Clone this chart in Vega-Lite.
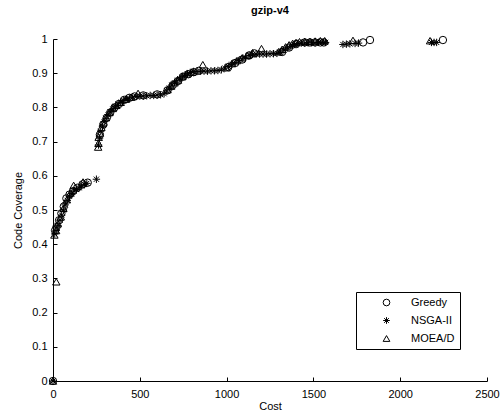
{
  "$schema": "https://vega.github.io/schema/vega-lite/v6.json",
  "autosize": "none",
  "width": 434,
  "height": 342,
  "padding": {"left": 53, "top": 39, "right": 16, "bottom": 31},
  "background": "white",
  "config": {
    "view": {"stroke": null},
    "font": "Liberation Sans",
    "axis": {"grid": false, "domainColor": "black", "tickColor": "black", "labelColor": "black", "titleColor": "black", "labelFontSize": 11, "titleFontSize": 11, "titleFontWeight": "normal", "tickSize": -4, "domainWidth": 1, "tickWidth": 1}
  },
  "title": {"text": "gzip-v4", "fontSize": 11, "fontWeight": "bold", "font": "Liberation Sans", "color": "black", "offset": 17, "anchor": "middle"},
  "data": {"values": [
    {"s":"Greedy","x":0,"y":0},{"s":"Greedy","x":12,"y":0.44},{"s":"Greedy","x":20,"y":0.45},{"s":"Greedy","x":35,"y":0.47},{"s":"Greedy","x":48,"y":0.49},{"s":"Greedy","x":62,"y":0.51},{"s":"Greedy","x":77,"y":0.534},{"s":"Greedy","x":95,"y":0.545},{"s":"Greedy","x":115,"y":0.555},{"s":"Greedy","x":140,"y":0.565},{"s":"Greedy","x":170,"y":0.575},{"s":"Greedy","x":200,"y":0.58},{"s":"Greedy","x":270,"y":0.72},{"s":"Greedy","x":290,"y":0.75},{"s":"Greedy","x":310,"y":0.77},{"s":"Greedy","x":330,"y":0.785},{"s":"Greedy","x":355,"y":0.8},{"s":"Greedy","x":380,"y":0.81},{"s":"Greedy","x":410,"y":0.822},{"s":"Greedy","x":440,"y":0.828},{"s":"Greedy","x":470,"y":0.832},{"s":"Greedy","x":520,"y":0.835},{"s":"Greedy","x":600,"y":0.838},{"s":"Greedy","x":660,"y":0.85},{"s":"Greedy","x":690,"y":0.865},{"s":"Greedy","x":720,"y":0.877},{"s":"Greedy","x":750,"y":0.89},{"s":"Greedy","x":780,"y":0.897},{"s":"Greedy","x":810,"y":0.903},{"s":"Greedy","x":840,"y":0.907},{"s":"Greedy","x":1010,"y":0.918},{"s":"Greedy","x":1050,"y":0.93},{"s":"Greedy","x":1090,"y":0.94},{"s":"Greedy","x":1130,"y":0.952},{"s":"Greedy","x":1160,"y":0.958},{"s":"Greedy","x":1320,"y":0.962},{"s":"Greedy","x":1360,"y":0.975},{"s":"Greedy","x":1400,"y":0.985},{"s":"Greedy","x":1450,"y":0.99},{"s":"Greedy","x":1480,"y":0.99},{"s":"Greedy","x":1510,"y":0.99},{"s":"Greedy","x":1540,"y":0.99},{"s":"Greedy","x":1560,"y":0.99},{"s":"Greedy","x":1786,"y":0.99},{"s":"Greedy","x":1826,"y":0.997},{"s":"Greedy","x":2246,"y":0.997},
    {"s":"NSGA-II","x":0,"y":0},{"s":"NSGA-II","x":10,"y":0.43},{"s":"NSGA-II","x":18,"y":0.44},{"s":"NSGA-II","x":28,"y":0.455},{"s":"NSGA-II","x":40,"y":0.47},{"s":"NSGA-II","x":50,"y":0.485},{"s":"NSGA-II","x":60,"y":0.5},{"s":"NSGA-II","x":70,"y":0.515},{"s":"NSGA-II","x":82,"y":0.528},{"s":"NSGA-II","x":95,"y":0.54},{"s":"NSGA-II","x":108,"y":0.548},{"s":"NSGA-II","x":120,"y":0.555},{"s":"NSGA-II","x":135,"y":0.56},{"s":"NSGA-II","x":150,"y":0.565},{"s":"NSGA-II","x":165,"y":0.57},{"s":"NSGA-II","x":180,"y":0.575},{"s":"NSGA-II","x":195,"y":0.578},{"s":"NSGA-II","x":250,"y":0.59},{"s":"NSGA-II","x":262,"y":0.69},{"s":"NSGA-II","x":268,"y":0.71},{"s":"NSGA-II","x":275,"y":0.73},{"s":"NSGA-II","x":285,"y":0.745},{"s":"NSGA-II","x":295,"y":0.758},{"s":"NSGA-II","x":305,"y":0.768},{"s":"NSGA-II","x":318,"y":0.778},{"s":"NSGA-II","x":330,"y":0.787},{"s":"NSGA-II","x":345,"y":0.795},{"s":"NSGA-II","x":360,"y":0.803},{"s":"NSGA-II","x":375,"y":0.81},{"s":"NSGA-II","x":390,"y":0.815},{"s":"NSGA-II","x":405,"y":0.82},{"s":"NSGA-II","x":420,"y":0.824},{"s":"NSGA-II","x":440,"y":0.827},{"s":"NSGA-II","x":460,"y":0.83},{"s":"NSGA-II","x":480,"y":0.832},{"s":"NSGA-II","x":500,"y":0.833},{"s":"NSGA-II","x":520,"y":0.833},{"s":"NSGA-II","x":540,"y":0.834},{"s":"NSGA-II","x":560,"y":0.835},{"s":"NSGA-II","x":580,"y":0.835},{"s":"NSGA-II","x":600,"y":0.836},{"s":"NSGA-II","x":620,"y":0.837},{"s":"NSGA-II","x":640,"y":0.84},{"s":"NSGA-II","x":655,"y":0.848},{"s":"NSGA-II","x":670,"y":0.857},{"s":"NSGA-II","x":685,"y":0.865},{"s":"NSGA-II","x":700,"y":0.872},{"s":"NSGA-II","x":715,"y":0.878},{"s":"NSGA-II","x":730,"y":0.884},{"s":"NSGA-II","x":745,"y":0.889},{"s":"NSGA-II","x":760,"y":0.894},{"s":"NSGA-II","x":775,"y":0.898},{"s":"NSGA-II","x":790,"y":0.902},{"s":"NSGA-II","x":810,"y":0.905},{"s":"NSGA-II","x":830,"y":0.905},{"s":"NSGA-II","x":850,"y":0.906},{"s":"NSGA-II","x":870,"y":0.906},{"s":"NSGA-II","x":890,"y":0.906},{"s":"NSGA-II","x":910,"y":0.907},{"s":"NSGA-II","x":930,"y":0.907},{"s":"NSGA-II","x":950,"y":0.908},{"s":"NSGA-II","x":970,"y":0.91},{"s":"NSGA-II","x":990,"y":0.915},{"s":"NSGA-II","x":1010,"y":0.92},{"s":"NSGA-II","x":1030,"y":0.926},{"s":"NSGA-II","x":1050,"y":0.931},{"s":"NSGA-II","x":1070,"y":0.937},{"s":"NSGA-II","x":1090,"y":0.942},{"s":"NSGA-II","x":1110,"y":0.947},{"s":"NSGA-II","x":1130,"y":0.952},{"s":"NSGA-II","x":1150,"y":0.955},{"s":"NSGA-II","x":1170,"y":0.956},{"s":"NSGA-II","x":1190,"y":0.956},{"s":"NSGA-II","x":1210,"y":0.956},{"s":"NSGA-II","x":1230,"y":0.956},{"s":"NSGA-II","x":1250,"y":0.957},{"s":"NSGA-II","x":1270,"y":0.957},{"s":"NSGA-II","x":1290,"y":0.958},{"s":"NSGA-II","x":1310,"y":0.962},{"s":"NSGA-II","x":1330,"y":0.968},{"s":"NSGA-II","x":1350,"y":0.974},{"s":"NSGA-II","x":1370,"y":0.979},{"s":"NSGA-II","x":1390,"y":0.984},{"s":"NSGA-II","x":1410,"y":0.987},{"s":"NSGA-II","x":1430,"y":0.988},{"s":"NSGA-II","x":1450,"y":0.988},{"s":"NSGA-II","x":1470,"y":0.989},{"s":"NSGA-II","x":1490,"y":0.989},{"s":"NSGA-II","x":1510,"y":0.989},{"s":"NSGA-II","x":1530,"y":0.99},{"s":"NSGA-II","x":1550,"y":0.99},{"s":"NSGA-II","x":1570,"y":0.99},{"s":"NSGA-II","x":1670,"y":0.984},{"s":"NSGA-II","x":1690,"y":0.985},{"s":"NSGA-II","x":1710,"y":0.986},{"s":"NSGA-II","x":1740,"y":0.987},{"s":"NSGA-II","x":1760,"y":0.988},{"s":"NSGA-II","x":2180,"y":0.99},{"s":"NSGA-II","x":2195,"y":0.99},{"s":"NSGA-II","x":2210,"y":0.99},
    {"s":"MOEA/D","x":0,"y":0},{"s":"MOEA/D","x":19,"y":0.29},{"s":"MOEA/D","x":8,"y":0.427},{"s":"MOEA/D","x":18,"y":0.44},{"s":"MOEA/D","x":28,"y":0.46},{"s":"MOEA/D","x":45,"y":0.48},{"s":"MOEA/D","x":60,"y":0.505},{"s":"MOEA/D","x":80,"y":0.53},{"s":"MOEA/D","x":100,"y":0.55},{"s":"MOEA/D","x":119,"y":0.572},{"s":"MOEA/D","x":173,"y":0.582},{"s":"MOEA/D","x":260,"y":0.684},{"s":"MOEA/D","x":262,"y":0.695},{"s":"MOEA/D","x":263,"y":0.713},{"s":"MOEA/D","x":270,"y":0.725},{"s":"MOEA/D","x":279,"y":0.742},{"s":"MOEA/D","x":290,"y":0.755},{"s":"MOEA/D","x":305,"y":0.77},{"s":"MOEA/D","x":325,"y":0.785},{"s":"MOEA/D","x":345,"y":0.797},{"s":"MOEA/D","x":365,"y":0.806},{"s":"MOEA/D","x":390,"y":0.815},{"s":"MOEA/D","x":420,"y":0.824},{"s":"MOEA/D","x":450,"y":0.83},{"s":"MOEA/D","x":490,"y":0.841},{"s":"MOEA/D","x":660,"y":0.852},{"s":"MOEA/D","x":680,"y":0.862},{"s":"MOEA/D","x":700,"y":0.872},{"s":"MOEA/D","x":720,"y":0.88},{"s":"MOEA/D","x":745,"y":0.89},{"s":"MOEA/D","x":770,"y":0.898},{"s":"MOEA/D","x":800,"y":0.903},{"s":"MOEA/D","x":863,"y":0.925},{"s":"MOEA/D","x":1000,"y":0.916},{"s":"MOEA/D","x":1030,"y":0.928},{"s":"MOEA/D","x":1060,"y":0.937},{"s":"MOEA/D","x":1090,"y":0.945},{"s":"MOEA/D","x":1120,"y":0.952},{"s":"MOEA/D","x":1150,"y":0.96},{"s":"MOEA/D","x":1201,"y":0.972},{"s":"MOEA/D","x":1300,"y":0.963},{"s":"MOEA/D","x":1320,"y":0.97},{"s":"MOEA/D","x":1340,"y":0.977},{"s":"MOEA/D","x":1360,"y":0.983},{"s":"MOEA/D","x":1380,"y":0.987},{"s":"MOEA/D","x":1400,"y":0.99},{"s":"MOEA/D","x":1420,"y":0.992},{"s":"MOEA/D","x":1450,"y":0.993},{"s":"MOEA/D","x":1480,"y":0.993},{"s":"MOEA/D","x":1510,"y":0.994},{"s":"MOEA/D","x":1540,"y":0.995},{"s":"MOEA/D","x":1565,"y":0.995},{"s":"MOEA/D","x":1728,"y":0.996},{"s":"MOEA/D","x":2172,"y":0.995}
  ]},
  "mark": {"type": "point", "filled": false, "color": "black", "strokeWidth": 1, "opacity": 1, "size": 55},
  "encoding": {
    "x": {"field": "x", "type": "quantitative", "title": "Cost",
      "scale": {"domain": [0, 2500], "nice": false},
      "axis": {"values": [0, 500, 1000, 1500, 2000, 2500], "format": "d", "labelPadding": 11, "titlePadding": 1, "labelFlush": false}},
    "y": {"field": "y", "type": "quantitative", "title": "Code Coverage",
      "scale": {"domain": [0, 1], "nice": false},
      "axis": {"values": [0, 0.1, 0.2, 0.3, 0.4, 0.5, 0.6, 0.7, 0.8, 0.9, 1], "format": "~g", "labelPadding": 10, "titlePadding": 8, "labelFlush": false}},
    "shape": {"field": "s", "type": "nominal",
      "scale": {"domain": ["Greedy", "NSGA-II", "MOEA/D"], "range": ["circle", "M-1,0L1,0M0,-1L0,1M-0.7,-0.7L0.7,0.7M-0.7,0.7L0.7,-0.7", "triangle-up"]},
      "legend": {"title": null, "orient": "none", "legendX": 303, "legendY": 253, "padding": 5, "symbolOffset": 20, "labelOffset": 19, "rowPadding": 6, "labelFontSize": 11, "labelColor": "black", "labelFont": "Liberation Sans", "strokeColor": "black", "fillColor": "white", "symbolStrokeColor": "black", "symbolFillColor": "transparent", "symbolSize": 45, "symbolStrokeWidth": 1}}
  }
}
